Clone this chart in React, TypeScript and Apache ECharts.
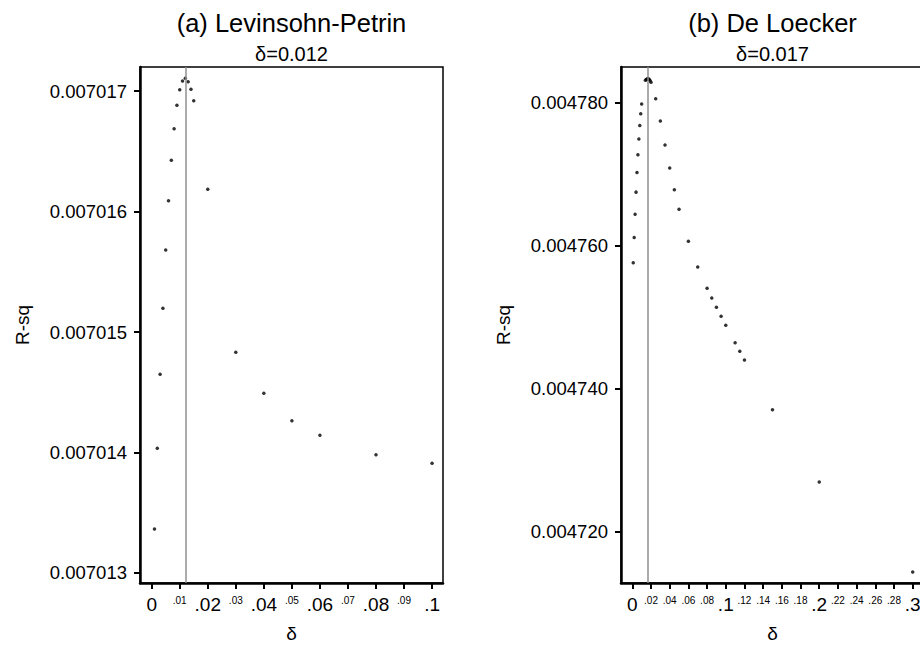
import React, { useEffect, useRef } from "react";
import * as echarts from "echarts";

const FONT = '"Liberation Sans", Arial, Helvetica, sans-serif';

// (a) Levinsohn-Petrin: depreciation rate grid and R-squared
const deltaLP = [
  0.001, 0.002, 0.003, 0.004, 0.005, 0.006, 0.007, 0.008, 0.009, 0.01,
  0.011, 0.012, 0.013, 0.014, 0.015, 0.02, 0.03, 0.04, 0.05, 0.06, 0.08, 0.1,
];
const rsqLP = [
  0.007013365, 0.007014035, 0.007014649, 0.007015197, 0.0070156805, 0.0070160897,
  0.0070164249, 0.0070166871, 0.0070168813, 0.0070170108, 0.007017083, 0.0070171054,
  0.0070170772, 0.0070170141, 0.0070169195, 0.0070161842, 0.0070148315, 0.0070144913,
  0.0070142639, 0.0070141427, 0.0070139817, 0.00701391,
];
const peakLP = 0.012;

// (b) De Loecker
const deltaDL = [
  0.001, 0.002, 0.003, 0.004, 0.005, 0.006, 0.007, 0.008, 0.009, 0.01,
  0.014, 0.015, 0.016, 0.017, 0.018, 0.019, 0.02, 0.025, 0.03, 0.035, 0.04,
  0.045, 0.05, 0.06, 0.07, 0.08, 0.085, 0.09, 0.095, 0.1, 0.11, 0.115, 0.12,
  0.15, 0.2, 0.3,
];
const rsqDL = [
  0.00475762, 0.00476112, 0.00476439, 0.00476747, 0.00477021, 0.00477269,
  0.00477488, 0.00477678, 0.00477842, 0.00477979, 0.00478309, 0.0047832,
  0.00478329, 0.00478331, 0.00478323, 0.00478306, 0.00478283, 0.00478052,
  0.0047774, 0.00477404, 0.00477083, 0.00476779, 0.00476509, 0.00476062,
  0.00475702, 0.00475404, 0.00475269, 0.00475138, 0.00475013, 0.00474887,
  0.00474643, 0.00474523, 0.00474401, 0.00473706, 0.00472699, 0.00471441,
];
const peakDL = 0.017;

// Tick positions
const lpMajorX = [0, 0.02, 0.04, 0.06, 0.08, 0.1];
const lpMinorX = [0.01, 0.03, 0.05, 0.07, 0.09];
const dlMajorX = [0, 0.1, 0.2, 0.3];
const dlMinorX = [0.02, 0.04, 0.06, 0.08, 0.12, 0.14, 0.16, 0.18, 0.22, 0.24, 0.26, 0.28];
const lpYTicks = [0.007013, 0.007014, 0.007015, 0.007016, 0.007017];
const dlYTicks = [0.00472, 0.00474, 0.00476, 0.00478];

const fmtDelta = (v: number) =>
  Number(v.toFixed(3)).toString().replace(/^0\./, ".");
const fmtRsq = (v: number) => v.toFixed(6);

// The right-hand panel runs slightly past the visible page edge.
const CANVAS_W = 930;
const VIEW_W = 920;
const VIEW_H = 645;
const GRID_L = { left: 140, top: 67, width: 303, height: 516 };
const GRID_R = { left: 621, top: 67, width: 303, height: 516 };
const AXIS_LINE = { color: "#000", width: 2.5 };
const TICK_LINE = { color: "#000", width: 2 };

function deltaAxis(grid: number, min: number, max: number, major: number[], minor: number[]) {
  const isMajor = (v: number) => major.some((m) => Math.abs(m - v) < 1e-9);
  return {
    type: "value",
    gridIndex: grid,
    min,
    max,
    axisLine: { show: true, onZero: false, lineStyle: { ...AXIS_LINE } },
    splitLine: { show: false },
    axisTick: {
      show: true,
      length: 6,
      customValues: major.concat(minor),
      lineStyle: { ...TICK_LINE },
    },
    axisLabel: {
      show: true,
      customValues: major.concat(minor),
      formatter: (v: number) => (isMajor(v) ? `{big|${fmtDelta(v)}}` : `{small|${fmtDelta(v)}}`),
      margin: 12,
      rich: {
        big: { fontFamily: FONT, fontSize: 19, lineHeight: 19, color: "#000" },
        small: { fontFamily: FONT, fontSize: 10, lineHeight: 10, color: "#000" },
      },
    },
  };
}

function rsqYAxis(grid: number, min: number, max: number, ticks: number[]) {
  return {
    type: "value",
    gridIndex: grid,
    min,
    max,
    axisLine: { show: true, onZero: false, lineStyle: { ...AXIS_LINE } },
    splitLine: { show: false },
    axisTick: {
      show: true,
      length: 6,
      customValues: ticks,
      lineStyle: { ...TICK_LINE },
    },
    axisLabel: {
      show: true,
      customValues: ticks,
      formatter: fmtRsq,
      fontFamily: FONT,
      fontSize: 18.5,
      color: "#000",
      margin: 13,
    },
  };
}

function scatter(xi: number, yi: number, xs: number[], ys: number[], peak: number) {
  return {
    type: "scatter",
    xAxisIndex: xi,
    yAxisIndex: yi,
    data: xs.map((x, i) => [x, ys[i]]),
    symbol: "circle",
    symbolSize: 3.5,
    itemStyle: { color: "#000" },
    markLine: {
      silent: true,
      symbol: "none",
      precision: 4,
      label: { show: false },
      lineStyle: { color: "#8f8f8f", width: 1.5, type: "solid" },
      data: [{ xAxis: peak }],
    },
  };
}

function text(x: number, y: number, str: string, size: number, rotation = 0) {
  return {
    type: "text",
    x,
    y,
    rotation,
    style: {
      text: str,
      fontFamily: FONT,
      fontSize: size,
      fill: "#000",
      align: "center",
      verticalAlign: "middle",
    },
  };
}

export default function App() {
  const ref = useRef<HTMLDivElement>(null);

  useEffect(() => {
    if (!ref.current) return;
    const chart = echarts.init(ref.current, undefined, { renderer: "svg" });
    const cxL = GRID_L.left + GRID_L.width / 2;
    const cxR = GRID_R.left + GRID_R.width / 2;
    chart.setOption({
      animation: false,
      backgroundColor: "#fff",
      grid: [
        { ...GRID_L, show: true, borderColor: "#000", borderWidth: 1.5 },
        { ...GRID_R, show: true, borderColor: "#000", borderWidth: 1.5 },
      ],
      xAxis: [
        deltaAxis(0, -0.00417, 0.1039, lpMajorX, lpMinorX),
        deltaAxis(1, -0.0121, 0.3121, dlMajorX, dlMinorX),
      ],
      yAxis: [
        rsqYAxis(0, 0.007012917, 0.0070171992, lpYTicks),
        rsqYAxis(1, 0.00471287, 0.00478495, dlYTicks),
      ],
      series: [
        scatter(0, 0, deltaLP, rsqLP, peakLP),
        scatter(1, 1, deltaDL, rsqDL, peakDL),
      ],
      graphic: [
        text(cxL, 23, "(a) Levinsohn-Petrin", 25.5),
        text(cxL, 54, `δ=${peakLP.toFixed(3)}`, 20),
        text(cxR, 23, "(b) De Loecker", 25.5),
        text(cxR, 54, `δ=${peakDL.toFixed(3)}`, 20),
        text(22, 325, "R-sq", 19, Math.PI / 2),
        text(503, 325, "R-sq", 19, Math.PI / 2),
        text(cxL, 633, "δ", 19),
        text(cxR, 633, "δ", 19),
      ],
    });
    return () => chart.dispose();
  }, []);

  return (
    <div
      style={{
        position: "absolute",
        left: 0,
        top: 0,
        width: VIEW_W,
        height: VIEW_H,
        overflow: "hidden",
        background: "#fff",
      }}
    >
      <div ref={ref} style={{ width: CANVAS_W, height: VIEW_H }} />
    </div>
  );
}
